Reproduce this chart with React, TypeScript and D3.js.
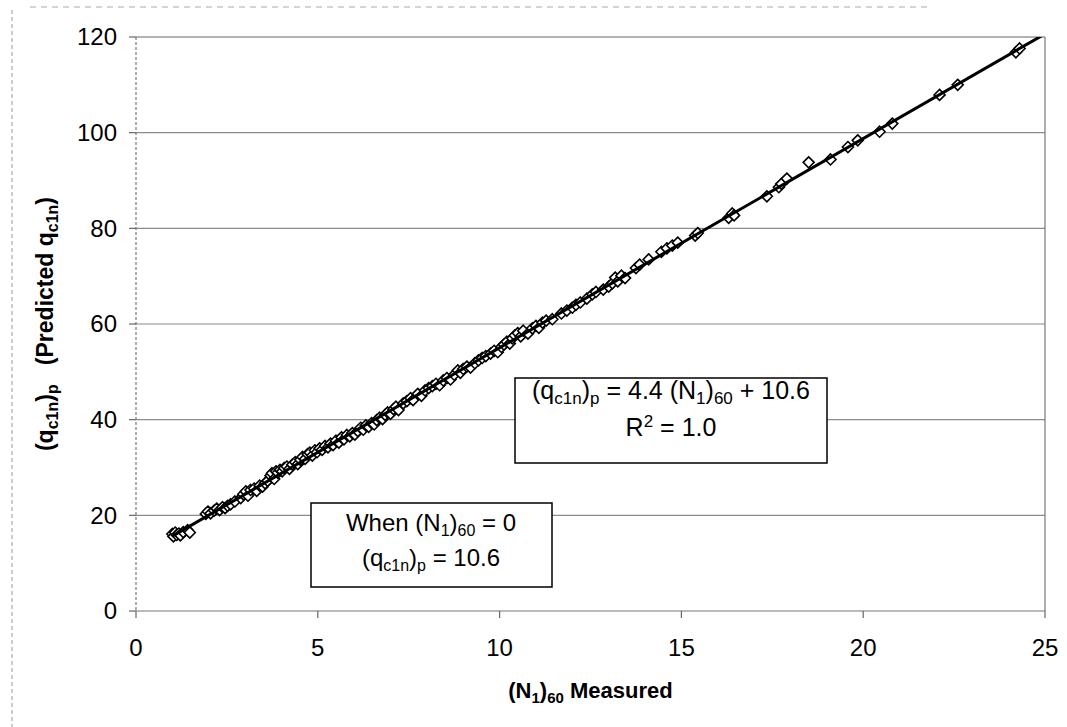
import React from "react";
import * as d3 from "d3";

// (N1)60 measured vs predicted (qc1n)p
const measuredN160 = [
  1.0, 1.03, 1.08, 1.12, 1.18, 1.22, 1.3, 1.42, 1.48,
  1.92, 1.98, 2.05, 2.15, 2.22, 2.3, 2.38, 2.45, 2.52, 2.6, 2.72,
  2.88, 2.95, 3.02, 3.08, 3.15, 3.25, 3.32, 3.4, 3.48, 3.55, 3.62,
  3.7, 3.74, 3.8, 3.85, 3.9, 3.96, 4.02, 4.08, 4.15, 4.22, 4.3,
  4.38, 4.45, 4.52, 4.58, 4.65, 4.72, 4.78, 4.85, 4.92, 4.98,
  5.05, 5.12, 5.2, 5.28, 5.35, 5.42, 5.5, 5.58, 5.65, 5.72, 5.8, 5.88, 5.95,
  6.02, 6.1, 6.18, 6.25, 6.32, 6.4, 6.48, 6.55, 6.62, 6.7, 6.78, 6.85, 6.92,
  7.0, 7.08, 7.15, 7.22, 7.35, 7.45, 7.55, 7.62, 7.75, 7.85, 7.95,
  8.05, 8.15, 8.25, 8.35, 8.45, 8.55, 8.65, 8.75, 8.85, 8.92, 9.0,
  9.1, 9.2, 9.32, 9.42, 9.52, 9.62, 9.75, 9.85, 9.95,
  10.05, 10.12, 10.2, 10.28, 10.35, 10.42, 10.5, 10.58, 10.65, 10.78, 10.9, 11.0,
  11.08, 11.18, 11.28, 11.45, 11.7, 11.85,
  12.0, 12.1, 12.22, 12.4, 12.55, 12.65, 12.85, 13.0,
  13.1, 13.18, 13.25, 13.35, 13.45, 13.75, 13.85, 14.1,
  14.45, 14.6, 14.75, 14.9, 15.38, 15.45,
  16.3, 16.4, 16.45, 17.35, 17.68, 17.75, 17.9, 18.5, 19.1, 19.58, 19.85,
  20.45, 20.8, 22.1, 22.6, 24.2, 24.3,
];
const predictedQc1n = [
  16.1, 15.6, 16.4, 15.9, 16.2, 15.8, 16.5, 16.9, 16.4,
  20.3, 20.8, 20.4, 21.0, 21.4, 21.1, 21.7, 21.5, 22.0, 22.3, 22.9,
  23.6, 24.4, 25.0, 24.1, 25.3, 25.6, 25.1, 26.2, 26.0, 26.7, 27.2,
  28.3, 28.8, 27.6, 29.2, 28.9, 29.5, 29.2, 29.9, 30.2, 29.7, 30.6,
  31.1, 30.7, 31.6, 32.2, 31.8, 32.8, 33.1, 32.5, 33.6, 33.2,
  34.0, 33.7, 34.5, 34.2, 35.0, 34.7, 35.6, 35.2, 36.3, 35.9, 36.8, 36.5, 37.2,
  36.9, 37.6, 38.3, 37.9, 38.8, 38.5, 39.3, 39.0, 39.9, 40.4, 40.1, 41.0, 41.5,
  41.2, 42.2, 42.7, 42.0, 43.4, 43.9, 44.5, 44.1, 45.4, 45.0, 46.1,
  46.6, 47.0, 47.5, 47.2, 48.2, 48.7, 48.4, 49.4, 50.3, 49.8, 50.6,
  51.1, 50.9, 51.8, 52.4, 52.9, 53.3, 53.8, 54.4, 54.1,
  55.2, 55.7, 56.3, 55.9, 57.0, 57.6, 58.1, 57.4, 58.6, 58.0, 59.1, 59.6,
  59.2, 60.3, 60.7, 61.0, 62.2, 62.8,
  63.4, 64.0, 64.5, 65.3, 66.2, 66.7, 67.2, 67.8,
  68.5, 69.7, 68.9, 70.1, 69.6, 71.7, 72.4, 73.5,
  75.1, 75.8, 76.4, 77.0, 78.5, 79.0,
  82.2, 83.1, 82.7, 86.7, 88.6, 89.3, 90.4, 93.8, 94.4, 97.0, 98.4,
  100.2, 101.9, 107.9, 110.0, 116.8, 117.6,
];
const xTicks = [0, 5, 10, 15, 20, 25];
const yTicks = [0, 20, 40, 60, 80, 100, 120];

const W = 1067;
const H = 727;
const plot = { left: 136, right: 1045, top: 37, bottom: 611 };
const FONT = "'Liberation Sans', Arial, sans-serif";

const diamond = (r: number) => `M0,${-r}L${r},0L0,${r}L${-r},0Z`;

// least-squares trend line through the points
function fit(xs: number[], ys: number[]) {
  const mx = d3.mean(xs)!;
  const my = d3.mean(ys)!;
  let num = 0;
  let den = 0;
  xs.forEach((x, i) => {
    num += (x - mx) * (ys[i] - my);
    den += (x - mx) * (x - mx);
  });
  const slope = num / den;
  return { slope, intercept: my - slope * mx };
}

export default function App() {
  const x = d3.scaleLinear().domain([0, 25]).range([plot.left, plot.right]);
  const y = d3.scaleLinear().domain([0, 120]).range([plot.bottom, plot.top]);

  const pts = measuredN160.map((v, i) => [v, predictedQc1n[i]] as [number, number]);
  const { slope, intercept } = fit(measuredN160, predictedQc1n);
  const trend = [d3.min(measuredN160)!, 25].map((v) => [v, slope * v + intercept] as [number, number]);
  const line = d3
    .line<[number, number]>()
    .x((d) => x(d[0]))
    .y((d) => y(d[1]));

  return (
    <svg
      width={W}
      height={H}
      style={{ position: "absolute", left: 0, top: 0, background: "#fff" }}
      fontFamily={FONT}
    >
      <defs>
        <clipPath id="plotClip">
          <rect x={plot.left} y={plot.top} width={plot.right - plot.left} height={plot.bottom - plot.top} />
        </clipPath>
      </defs>

      {/* faint outer frame left by the scan */}
      <line x1={12} x2={12} y1={10} y2={H} stroke="#999" strokeDasharray="4,3" />
      <line x1={30} x2={930} y1={7} y2={7} stroke="#aaa" strokeDasharray="6,5" />

      {/* gridlines */}
      {yTicks.slice(1).map((t) => (
        <line key={t} x1={plot.left} x2={plot.right} y1={y(t)} y2={y(t)} stroke={t === 120 ? "#666" : "#8c8c8c"} strokeWidth={1.2} />
      ))}
      <line x1={plot.right} x2={plot.right} y1={plot.top} y2={plot.bottom} stroke="#777" strokeWidth={1.2} />

      {/* axes */}
      <line x1={plot.left} x2={plot.right} y1={plot.bottom} y2={plot.bottom} stroke="#777" strokeWidth={1.2} />
      <line x1={plot.left} x2={plot.left} y1={plot.top} y2={plot.bottom} stroke="#777" strokeWidth={1.2} strokeDasharray="3,2" />
      {yTicks.map((t) => (
        <g key={t}>
          <line x1={plot.left - 7} x2={plot.left} y1={y(t)} y2={y(t)} stroke="#666" strokeWidth={1.2} />
          <text x={117} y={y(t)} dy="0.35em" textAnchor="end" fontSize={24}>
            {t}
          </text>
        </g>
      ))}
      {xTicks.map((t) => (
        <g key={t}>
          <line x1={x(t)} x2={x(t)} y1={plot.bottom} y2={plot.bottom + 7} stroke="#666" strokeWidth={1.2} />
          <text x={x(t)} y={656} textAnchor="middle" fontSize={24}>
            {t}
          </text>
        </g>
      ))}

      {/* markers and trend line */}
      <g clipPath="url(#plotClip)">
        {pts.map((d, i) => (
          <path
            key={i}
            d={diamond(5.5)}
            transform={`translate(${x(d[0])},${y(d[1])})`}
            fill="#fff"
            stroke="#000"
            strokeWidth={1.6}
          />
        ))}
        <path d={line(trend)!} fill="none" stroke="#000" strokeWidth={3} />
      </g>

      {/* equation box */}
      <rect x={515} y={378} width={312} height={85} fill="#fff" stroke="#000" strokeWidth={1.5} />
      <text x={671} y={399} textAnchor="middle" fontSize={25}>
        (q<tspan fontSize={17} dy={5}>c1n</tspan>
        <tspan dy={-5}>)</tspan>
        <tspan fontSize={17} dy={5}>p</tspan>
        <tspan dy={-5}> = 4.4 (N</tspan>
        <tspan fontSize={17} dy={5}>1</tspan>
        <tspan dy={-5}>)</tspan>
        <tspan fontSize={17} dy={5}>60</tspan>
        <tspan dy={-5}> + 10.6</tspan>
      </text>
      <text x={671} y={436} textAnchor="middle" fontSize={25}>
        R<tspan fontSize={17} dy={-9}>2</tspan>
        <tspan dy={9}> = 1.0</tspan>
      </text>

      {/* intercept box */}
      <rect x={311} y={503} width={241} height={84} fill="#fff" stroke="#000" strokeWidth={1.5} />
      <text x={431} y={531} textAnchor="middle" fontSize={24}>
        When (N<tspan fontSize={16} dy={5}>1</tspan>
        <tspan dy={-5}>)</tspan>
        <tspan fontSize={16} dy={5}>60</tspan>
        <tspan dy={-5}> = 0</tspan>
      </text>
      <text x={431} y={566} textAnchor="middle" fontSize={24}>
        (q<tspan fontSize={16} dy={5}>c1n</tspan>
        <tspan dy={-5}>)</tspan>
        <tspan fontSize={16} dy={5}>p</tspan>
        <tspan dy={-5}> = 10.6</tspan>
      </text>

      {/* axis titles */}
      <text x={(plot.left + plot.right) / 2} y={698} textAnchor="middle" fontSize={22} fontWeight="bold">
        (N<tspan fontSize={15} dy={5}>1</tspan>
        <tspan dy={-5}>)</tspan>
        <tspan fontSize={15} dy={5}>60</tspan>
        <tspan dy={-5}> Measured</tspan>
      </text>
      <text
        transform={`translate(53,${(plot.top + plot.bottom) / 2}) rotate(-90)`}
        textAnchor="middle"
        fontSize={23}
        fontWeight="bold"
      >
        (q<tspan fontSize={16} dy={5}>c1n</tspan>
        <tspan dy={-5}>)</tspan>
        <tspan fontSize={16} dy={5}>p</tspan>
        <tspan dy={-5}>{"\u00a0\u00a0\u00a0(Predicted q"}</tspan>
        <tspan fontSize={16} dy={5}>c1n</tspan>
        <tspan dy={-5}>)</tspan>
      </text>
    </svg>
  );
}
